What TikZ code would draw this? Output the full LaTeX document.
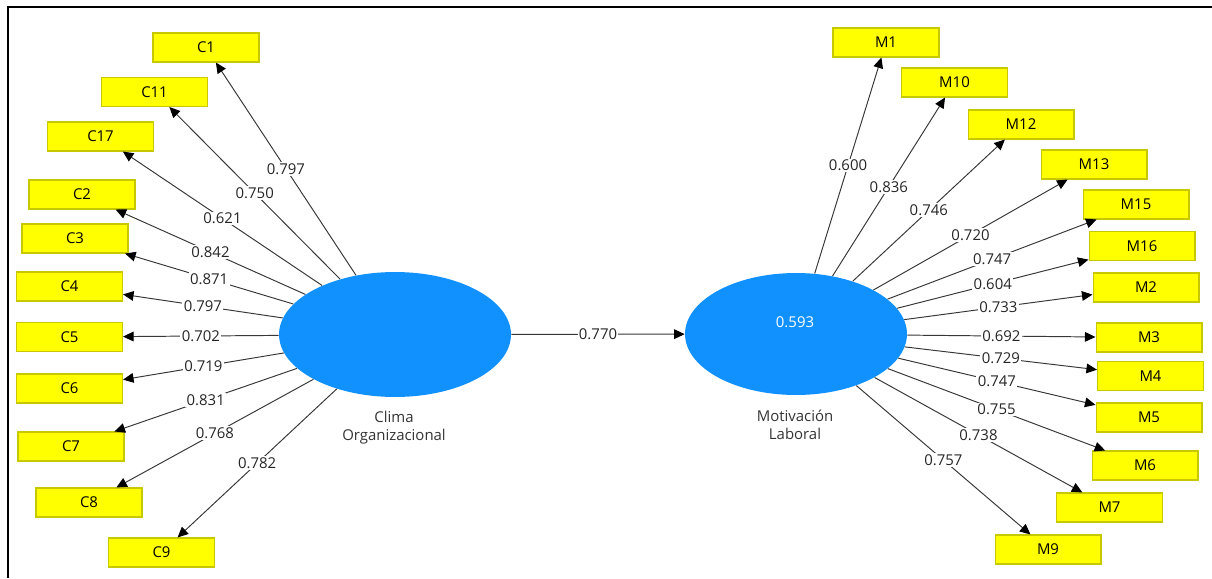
\documentclass[tikz,border=0pt]{standalone}
\usepackage{fontspec}
\setmainfont{Open Sans}
\usetikzlibrary{shapes.geometric,arrows.meta}
\definecolor{lvblue}{RGB}{17,145,254}
\definecolor{indyellow}{RGB}{255,255,0}
\definecolor{indedge}{RGB}{200,200,0}
\definecolor{linegray}{RGB}{55,55,55}

\begin{document}
\begin{tikzpicture}[
        x=0.02cm, y=-0.02cm,
        every node/.style={font=\fontsize{8.5}{10.2}\selectfont},
        latent/.style={ellipse, fill=lvblue, inner sep=0pt},
        ind/.style={draw=indedge, fill=indyellow, line width=0.6pt, inner sep=0pt,
            minimum width=2.12cm, minimum height=0.58cm},
        load/.style={draw=linegray, line width=0.55pt,
            -{Triangle[length=6pt, width=5.5pt, color=black]}},
        val/.style={fill=white, inner sep=0.8pt, text=black!85},
        caption/.style={align=center, text=black!80}
    ]
    \useasboundingbox (0,0) rectangle (1212,578);
    \draw[line width=1.3pt] (8,578) -- (8,7) -- (1212,7);

    % latent variables
    \node[latent, minimum width=4.64cm, minimum height=2.5cm] (clima) at (395,334.5) {};
    \node[latent, minimum width=4.44cm, minimum height=2.44cm] (motiv) at (796,334) {};
    \node[text=white] (r2) at (795,322) {0.593};
    \node[caption] (climatxt) at (394,428) {Clima\\Organizacional};
    \node[caption] (motivtxt) at (795,425) {Motivación\\Laboral};

    % indicators, clima
    \node[ind] (c1) at (206,47.5) {C1};
    \node[ind] (c11) at (154.5,92) {C11};
    \node[ind] (c17) at (100.5,136.5) {C17};
    \node[ind] (c2) at (82,194.5) {C2};
    \node[ind] (c3) at (75,238.5) {C3};
    \node[ind] (c4) at (69.5,286.5) {C4};
    \node[ind] (c5) at (69.5,337) {C5};
    \node[ind] (c6) at (69.5,388.5) {C6};
    \node[ind] (c7) at (71,446.5) {C7};
    \node[ind] (c8) at (89,502.5) {C8};
    \node[ind] (c9) at (161.5,552.5) {C9};

    % indicators, motivacion
    \node[ind] (m1) at (886,42.5) {M1};
    \node[ind] (m10) at (954.5,82.5) {M10};
    \node[ind] (m12) at (1021,124.5) {M12};
    \node[ind] (m13) at (1094,164.5) {M13};
    \node[ind] (m15) at (1136,204.5) {M15};
    \node[ind] (m16) at (1142,246) {M16};
    \node[ind] (m2) at (1146,287.5) {M2};
    \node[ind] (m3) at (1149,337.5) {M3};
    \node[ind] (m4) at (1150.5,376) {M4};
    \node[ind] (m5) at (1149,417.5) {M5};
    \node[ind] (m6) at (1145,465.5) {M6};
    \node[ind] (m7) at (1109.5,507.5) {M7};
    \node[ind] (m9) at (1048,549.5) {M9};

    % loadings
    \draw[load] (clima) -- (c1) node[val, midway] {0.797};
    \draw[load] (clima) -- (c11) node[val, midway] {0.750};
    \draw[load] (clima) -- (c17) node[val, midway] {0.621};
    \draw[load] (clima) -- (c2) node[val, midway] {0.842};
    \draw[load] (clima) -- (c3) node[val, midway] {0.871};
    \draw[load] (clima) -- (c4) node[val, midway] {0.797};
    \draw[load] (clima) -- (c5) node[val, midway] {0.702};
    \draw[load] (clima) -- (c6) node[val, midway] {0.719};
    \draw[load] (clima) -- (c7) node[val, midway] {0.831};
    \draw[load] (clima) -- (c8) node[val, midway] {0.768};
    \draw[load] (clima) -- (c9) node[val, midway] {0.782};

    \draw[load] (motiv) -- (m1) node[val, midway] {0.600};
    \draw[load] (motiv) -- (m10) node[val, midway] {0.836};
    \draw[load] (motiv) -- (m12) node[val, midway] {0.746};
    \draw[load] (motiv) -- (m13) node[val, midway] {0.720};
    \draw[load] (motiv) -- (m15) node[val, midway] {0.747};
    \draw[load] (motiv) -- (m16) node[val, midway] {0.604};
    \draw[load] (motiv) -- (m2) node[val, midway] {0.733};
    \draw[load] (motiv) -- (m3) node[val, midway] {0.692};
    \draw[load] (motiv) -- (m4) node[val, midway] {0.729};
    \draw[load] (motiv) -- (m5) node[val, midway] {0.747};
    \draw[load] (motiv) -- (m6) node[val, midway] {0.755};
    \draw[load] (motiv) -- (m7) node[val, midway] {0.738};
    \draw[load] (motiv) -- (m9) node[val, midway] {0.757};

    % path
    \draw[load] (clima) -- (motiv) node[val, midway] {0.770};
\end{tikzpicture}
\end{document}
